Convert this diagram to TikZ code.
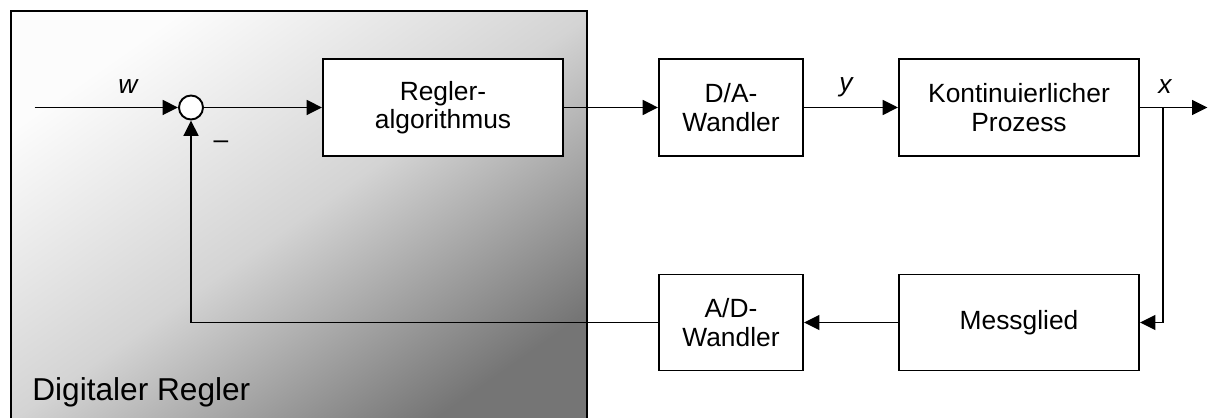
\documentclass[tikz,border=0pt]{standalone}
\usepackage{fontspec}
\setmainfont{Liberation Sans}
\usetikzlibrary{arrows.meta}

\begin{document}
\begin{tikzpicture}[
	block/.style = {draw, line width=1.1pt, fill=white, inner sep=0pt, align=center, font=\fontsize{15}{16.1}\selectfont},
	sumpt/.style = {draw, line width=1.1pt, fill=white, circle, inner sep=0pt, minimum size=.48cm},
	lab/.style = {inner sep=0pt, font=\fontsize{15}{18}\selectfont\itshape},
	conn/.style = {line width=1pt, -{Triangle[length=.31cm, width=.3cm]}}
]
	\useasboundingbox (0,0) rectangle (24.16,8.34);
	\draw[line width=1.1pt, top color=black!1, bottom color=black!54, middle color=black!17, shading angle=35] (.22,8.12) rectangle (11.74,-.2);
	\node[anchor=base west, inner sep=0pt, font=\fontsize{18}{20}\selectfont] (title) at (.64,.34) {Digitaler Regler};
%
	\coordinate (in) at (.69,6.19);
	\node[sumpt] (sum) at (3.82,6.19) {};
	\node[block, minimum width=4.8cm, minimum height=1.94cm] (regler) at (8.86,6.19) {Regler-\\algorithmus};
	\node[block, minimum width=2.88cm, minimum height=1.94cm] (da) at (14.62,6.19) {D/A-\\Wandler};
	\node[block, minimum width=4.8cm, minimum height=1.94cm] (proc) at (20.38,6.19) {Kontinuierlicher\\Prozess};
	\node[block, minimum width=4.8cm, minimum height=1.92cm] (mess) at (20.38,1.89) {Messglied};
	\node[block, minimum width=2.88cm, minimum height=1.92cm] (ad) at (14.62,1.89) {A/D-\\Wandler};
	\coordinate (br) at (23.26,6.19);
	\coordinate (out) at (24.15,6.19);
%
	\draw[conn] (in) -- (sum);
	\draw[conn] (sum) -- (regler);
	\draw[conn] (regler) -- (da);
	\draw[conn] (da) -- (proc);
	\draw[conn] (proc.east) -- (out);
	\draw[conn] (br) |- (mess.east);
	\draw[conn] (mess) -- (ad);
	\draw[conn] (ad.west) -| (sum.south);
%
	\node[lab] (wlab) at (2.56,6.6) {w};
	\node[lab] (ylab) at (16.92,6.6) {y};
	\node[lab] (xlab) at (23.3,6.6) {x};
	\node[inner sep=0pt, font=\fontsize{15}{18}\selectfont] (minus) at (4.42,5.44) {\textendash};
\end{tikzpicture}
\end{document}
